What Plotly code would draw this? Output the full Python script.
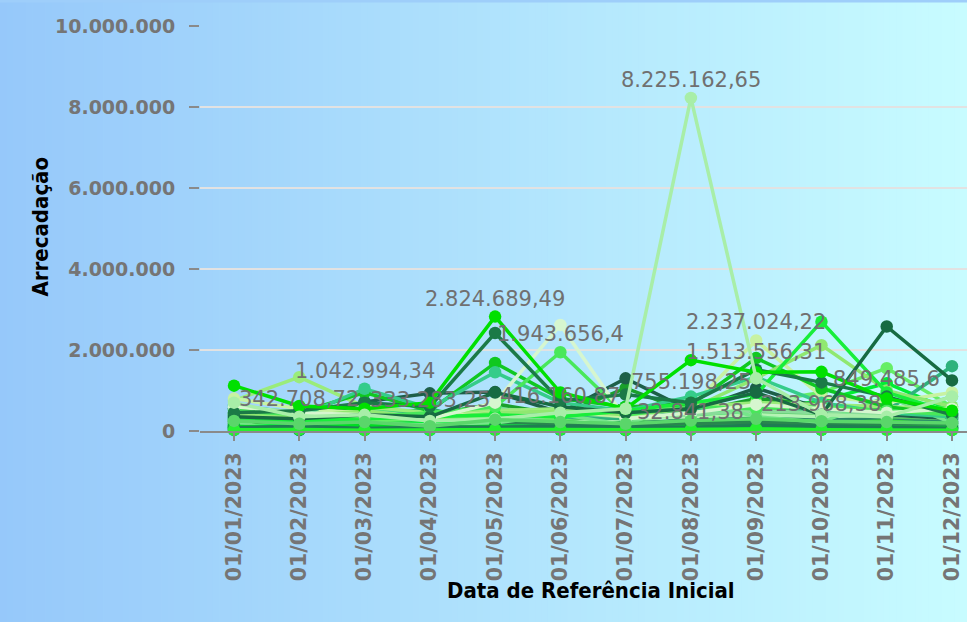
import plotly.graph_objects as go

# ---------------- data ----------------
dates = ["01/01/2023", "01/02/2023", "01/03/2023", "01/04/2023", "01/05/2023", "01/06/2023",
         "01/07/2023", "01/08/2023", "01/09/2023", "01/10/2023", "01/11/2023", "01/12/2023"]

s01 = [1120000, 620000, 550000, 700000, 2824689.49, 950000, 550000, 1750000, 1450000, 1460000, 800000, 500000]
s02 = [450000, 500000, 700000, 600000, 2420000, 750000, 900000, 700000, 1513556.31, 1200000, 850000, 400000]
s03 = [350000, 300000, 400000, 350000, 950000, 600000, 450000, 550000, 950000, 400000, 2580000, 1250000]
s04 = [250000, 300000, 450000, 400000, 500000, 350000, 300000, 500000, 600000, 450000, 500000, 1600000]
s05 = [600000, 450000, 400000, 300000, 700000, 2620000, 300000, 450000, 650000, 550000, 450000, 550000]
s06 = [500000, 400000, 350000, 450000, 600000, 1943656.4, 400000, 600000, 550000, 600000, 500000, 400000]
s07 = [300000, 250000, 300000, 350000, 400000, 350000, 500000, 700000, 900000, 2700000, 950000, 450000]
s08 = [400000, 350000, 500000, 300000, 450000, 500000, 400000, 550000, 1300000, 2120000, 1000000, 600000]
s09 = [750000, 1330000, 600000, 450000, 500000, 550000, 450000, 600000, 700000, 650000, 600000, 550000]
s10 = [800000, 550000, 450000, 350000, 450000, 500000, 350000, 600000, 2237024.22, 850000, 700000, 950000]
s11 = [700000, 350000, 400000, 250000, 300000, 450000, 550000, 8225162.65, 1300000, 400000, 350000, 850000]
s12 = [550000, 450000, 950000, 500000, 1680000, 800000, 600000, 650000, 1800000, 1050000, 600000, 400000]
s13 = [400000, 350000, 1042994.34, 570000, 1450000, 700000, 500000, 850000, 1330000, 700000, 450000, 350000]
s14 = [550000, 200000, 720000, 930000, 960000, 450000, 1300000, 500000, 1060000, 550000, 400000, 300000]
s15 = [200000, 250000, 300000, 400000, 670000, 400000, 1060000, 450000, 800000, 650000, 500000, 350000]
s16 = [100000, 150000, 200000, 200000, 300000, 300000, 600000, 400000, 500000, 750000, 1180000, 500000]
s17 = [350000, 300000, 250000, 300000, 350000, 300000, 400000, 450000, 700000, 950000, 1550000, 600000]
s18 = [150000, 100000, 100000, 150000, 200000, 150000, 200000, 250000, 300000, 250000, 200000, 200000]
s19 = [300000, 100000, 300000, 200000, 350000, 300000, 150000, 300000, 350000, 300000, 300000, 250000]
s20 = [450000, 250000, 350000, 200000, 400000, 350000, 250000, 400000, 450000, 400000, 350000, 300000]
s21 = [50000, 50000, 100000, 50000, 100000, 100000, 50000, 150000, 200000, 100000, 150000, 100000]
s22 = [200000, 150000, 200000, 250000, 250000, 200000, 300000, 350000, 400000, 350000, 400000, 300000]
s23 = [50000, 20000, 30000, 50000, 50000, 50000, 30000, 60000, 80000, 50000, 50000, 50000]
s24 = [250000, 200000, 150000, 100000, 200000, 250000, 100000, 200000, 250000, 200000, 250000, 150000]
s25 = [100000, 80000, 350000, 550000, 150000, 100000, 200000, 150000, 200000, 150000, 100000, 100000]
s26 = [150000, 400000, 200000, 150000, 200000, 416160.87, 150000, 755198.25, 350000, 213968.38, 849485.6, 200000]
s27 = [20000, 30000, 50000, 20000, 40000, 30000, 20000, 32841.38, 50000, 30000, 40000, 30000]
s28 = [600000, 342708.72, 500000, 333283.25, 550000, 450000, 350000, 400000, 500000, 450000, 400000, 850000]
s29 = [400000, 120000, 250000, 180000, 220000, 180000, 160000, 180000, 220000, 180000, 160000, 180000]
s30 = [620000, 450000, 550000, 450000, 550000, 500000, 450000, 500000, 600000, 550000, 500000, 450000]
s31 = [120000, 60000, 150000, 80000, 120000, 90000, 80000, 100000, 120000, 100000, 90000, 80000]
s32 = [80000, 120000, 60000, 100000, 90000, 120000, 110000, 90000, 140000, 120000, 110000, 70000]
s33 = [30000, 40000, 20000, 30000, 30000, 40000, 30000, 40000, 50000, 30000, 30000, 20000]
s34 = [250000, 180000, 220000, 120000, 280000, 220000, 180000, 260000, 300000, 240000, 220000, 200000]

series = [s18, s19, s20, s21, s22, s23, s24, s25, s27, s29, s30, s16, s17, s15, s14, s04,
          s28, s26, s09, s10, s12, s13, s08, s07, s06, s05, s03, s02, s01, s11,
          s31, s32, s33, s34]

colors = ["#0e5e35", "#2a8a68", "#50c860", "#22e822", "#b4f4b4", "#176b3e", "#33dd33", "#2bb06a",
          "#11bb55", "#28864e", "#3de070", "#00ee33", "#66ee66", "#1aa02a", "#1d5f48", "#2eb27c",
          "#88dd99", "#75e58a", "#9aec7a", "#c8f2a2", "#10c820", "#35cc8a", "#90e870", "#18ee3a",
          "#48e85a", "#d6f6cf", "#176b42", "#1b7a47", "#00e000", "#a8eea8",
          "#00dd22", "#1f7d52", "#26f030", "#5ad66a"]

# labelled points: (date, value)
label_dates = ["01/02/2023", "01/03/2023", "01/04/2023", "01/05/2023", "01/06/2023", "01/06/2023",
               "01/08/2023", "01/08/2023", "01/08/2023", "01/09/2023", "01/09/2023", "01/10/2023",
               "01/11/2023"]
label_values = [342708.72, 1042994.34, 333283.25, 2824689.49, 1943656.4, 416160.87,
                755198.25, 32841.38, 8225162.65, 2237024.22, 1513556.31, 213968.38, 849485.6]


def fmt_br(v):
    s = f"{v:,.2f}"
    ip, dp = s.split(".")
    ip = ip.replace(",", ".")
    dp = dp.rstrip("0")
    return ip + ("," + dp if dp else "")


# ---------------- figure ----------------
W, H = 967, 622
ML, MR, MT, MB = 200, 0, 26, 191
PW, PH = W - ML - MR, H - MT - MB

fig = go.Figure()
for vals, col in zip(series, colors):
    fig.add_trace(go.Scatter(
        x=dates, y=vals, mode="lines+markers",
        line=dict(color=col, width=3.5),
        marker=dict(color=col, size=12.5),
        cliponaxis=False, showlegend=False, hoverinfo="skip"))

# gradient background via vertical strips (paper coordinates)
shapes = []
N = 150
c0 = (150, 200, 250)
c1 = (200, 252, 255)
for i in range(N):
    t = (i + 0.5) / N
    c = tuple(round(a + (b - a) * t) for a, b in zip(c0, c1))
    px0 = W * i / N
    px1 = W * (i + 1) / N + 0.6
    shapes.append(dict(type="rect", xref="paper", yref="paper", layer="below",
                       x0=(px0 - ML) / PW, x1=(px1 - ML) / PW, y0=-1, y1=2,
                       line=dict(width=0), fillcolor=f"rgb{c}"))
# thin band at the very top
shapes.append(dict(type="rect", xref="paper", yref="paper", layer="below",
                   x0=-ML / PW, x1=1.01, y0=(H - MB - 2.5) / PH, y1=(H - MB) / PH + 0.1,
                   line=dict(width=0), fillcolor="rgb(158,206,250)"))

annotations = []
for d, v in zip(label_dates, label_values):
    annotations.append(dict(x=d, y=v, xref="x", yref="y", text=fmt_br(v), showarrow=False,
                            yshift=18, font=dict(family="DejaVu Sans", size=21, color="#707070")))

title_font = dict(family="DejaVu Sans Condensed, DejaVu Sans", size=22, color="#000000", weight="bold")
annotations.append(dict(x=(591 - ML) / PW, y=(H - MB - 605) / PH, xref="paper", yref="paper",
                        text="Data de Referência Inicial", showarrow=False, font=title_font))
annotations.append(dict(x=(25 - ML) / PW, y=(H - MB - 227) / PH, xref="paper", yref="paper",
                        text="Arrecadação", showarrow=False, textangle=-90, font=title_font))

ytick_font = dict(family="DejaVu Sans", size=19, color="#757575", weight="bold")
xtick_font = dict(family="DejaVu Sans", size=20.5, color="#757575", weight="bold")

fig.update_layout(
    width=W, height=H,
    margin=dict(l=ML, r=MR, t=MT, b=MB, pad=0),
    paper_bgcolor="rgb(175,226,252)",
    plot_bgcolor="rgba(0,0,0,0)",
    separators=",.",
    shapes=shapes,
    annotations=annotations,
    xaxis=dict(type="category", range=[-0.521, 11.23], showgrid=False,
               showline=True, linecolor="#8a8a8a", linewidth=2,
               ticks="outside", ticklen=8, tickwidth=2, tickcolor="#8a8a8a",
               tickangle=-90, tickfont=xtick_font, ticklabelstandoff=3, zeroline=False),
    yaxis=dict(range=[0, 10000000], dtick=2000000, tickformat=",.0f",
               showgrid=True, gridcolor="#e2e2e2", gridwidth=2,
               showline=False, zeroline=False,
               ticks="outside", ticklen=10, tickwidth=2, tickcolor="#8a8a8a",
               tickfont=ytick_font, ticklabelstandoff=10),
)

fig.write_html("out.html", config={"displayModeBar": False},
               post_script="document.body.style.margin='0';document.body.style.overflow='hidden';")
